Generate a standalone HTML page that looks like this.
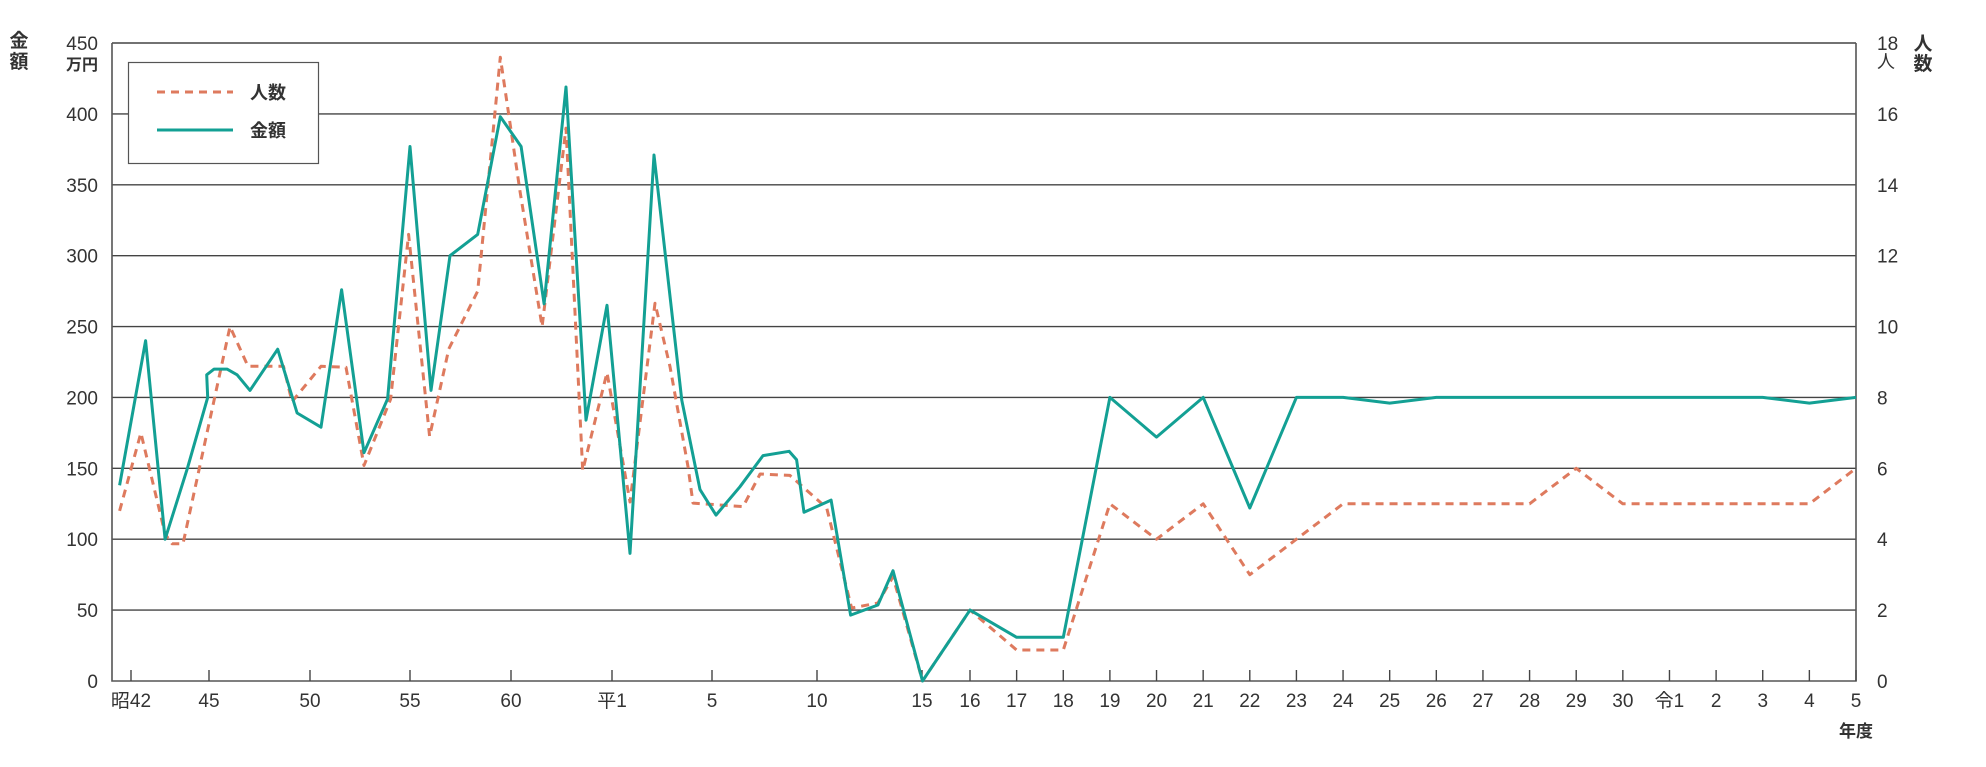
<!DOCTYPE html>
<html><head><meta charset="utf-8"><style>
html,body{margin:0;padding:0;background:#fff;}
svg{display:block;font-family:"Liberation Sans","Noto Sans CJK JP",sans-serif;}
</style></head><body>
<svg id="chart" width="1986" height="767" viewBox="0 0 1986 767" xmlns="http://www.w3.org/2000/svg">
<g id="grid"></g>
<g id="axes"></g>
<g id="series"></g>
<g font-size="19" font-weight="bold" fill="#333">
<text x="19" y="47" text-anchor="middle">金</text><text x="19" y="68" text-anchor="middle">額</text></g>
<text x="98" y="70" text-anchor="end" font-size="16" font-weight="bold" fill="#333">万円</text>
<text x="1877" y="68" font-size="18" fill="#333">人</text>
<g font-size="19" font-weight="bold" fill="#333">
<text x="1923" y="50" text-anchor="middle">人</text><text x="1923" y="70" text-anchor="middle">数</text></g>
<text x="1856" y="737" text-anchor="middle" font-size="17" font-weight="bold" fill="#333">年度</text>
<g>
<rect x="128.5" y="62.5" width="190" height="101" fill="#fff" stroke="#555" stroke-width="1.2"/>
<line x1="157" y1="92" x2="233" y2="92" stroke="#de7a5e" stroke-width="3" stroke-dasharray="8,6"/>
<text x="250" y="99" font-size="18" font-weight="bold" fill="#333">人数</text>
<line x1="157" y1="130" x2="233" y2="130" stroke="#13a094" stroke-width="3"/>
<text x="250" y="137" font-size="18" font-weight="bold" fill="#333">金額</text>
</g>
</svg>
<script>
// tick definitions (year index -> label)
const tickIdx = [0,3,8,13,18,22,26,31,36,37,38,39,40,41,42,43,44,45,46,47,48,49,50,51,52,53,54,55,56];
const tickLabels = ["昭42","45","50","55","60","平1","5","10","15","16","17","18","19","20","21","22","23","24","25","26","27","28","29","30","令1","2","3","4","5"];
const leftTicks = [0,50,100,150,200,250,300,350,400,450];
const rightTicks = [0,2,4,6,8,10,12,14,16,18];
// amount series (万円): x = year index
const amountX = [-0.44,0.56,1.31,2.17,2.95,2.91,3.25,3.89,4.39,5.03,6.40,7.36,8.55,9.58,10.7,11.88,13.0,14.04,14.98,16.35,17.47,18.40,19.31,20.18,20.97,21.8,22.72,23.68,24.79,25.52,26.19,27.33,28.43,29.67,30.03,30.38,31.67,32.6,33.9,34.62,36.01,37,38,39,40,41,42,43,44,45,46,47,48,49,50,51,52,53,54,55,56];
const amountV = [138,240,100,150,200,216,220,220,216,205,234,189,179,276,161,199,377,205,300,315,398,377,266,419,184,265,90,371,198,135,117,137,159,162,156,119,127.6,46.5,53.6,77.8,0,50,30.8,30.8,200,172,200,122,200,200,196,200,200,200,200,200,200,200,200,196,200];
// people series (人)
const peopleX = [-0.44,0.38,1.31,1.58,2.0,4.04,4.93,6.69,7.11,8.55,9.8,10.7,12.03,12.93,13.97,14.92,16.35,17.47,18.36,19.23,20.18,20.84,21.8,22.72,23.72,24.32,25.04,25.24,27.48,28.29,29.71,31.46,32.65,33.9,34.62,36.01,37,38,39,40,41,42,43,44,45,46,47,48,49,50,51,52,53,54,55,56];
const peopleV = [4.8,7,4.15,3.87,3.87,10,8.88,8.88,7.88,8.88,8.85,6.08,7.95,12.6,6.9,9.37,11,17.6,13.8,10,15.6,5.94,8.7,5.05,10.66,8.87,6.05,5.02,4.92,5.84,5.8,4.88,2.06,2.2,2.94,0,2,0.875,0.875,5,4,5,3,4,5,5,5,5,5,6,5,5,5,5,5,6];

const NS="http://www.w3.org/2000/svg";
const L=112,R=1856,T=43,B=681;
// piecewise x axis anchors (axis layout)
const anchorI=[0,3,8,13,18,22,26,31,36,37,56];
const anchorP=[131,209,310,410,511,612,712,817,922,970,1856];
function xs(i){
  let k=0;
  while(k<anchorI.length-2 && i>anchorI[k+1]) k++;
  const i0=anchorI[k],i1=anchorI[k+1],p0=anchorP[k],p1=anchorP[k+1];
  return p0+(i-i0)*(p1-p0)/(i1-i0);
}
function yL(v){return B-v/450*(B-T);}
function yR(v){return B-v/18*(B-T);}
function mk(tag,attrs,parent){const e=document.createElementNS(NS,tag);for(const k in attrs)e.setAttribute(k,attrs[k]);parent.appendChild(e);return e;}
const grid=document.getElementById('grid'),axes=document.getElementById('axes'),series=document.getElementById('series');
leftTicks.forEach((v,j)=>{
  const y=yL(v);
  if(v>0){const g=mk('line',{x1:L,x2:R,y1:y,y2:y,stroke:'#444','stroke-width':1.4},grid);
  
  }
  const t=mk('text',{x:98,y:y+7,'text-anchor':'end','font-size':19,fill:'#333'},axes);t.textContent=v;
  
  
  const t2=mk('text',{x:1877,y:yR(rightTicks[j])+7,'font-size':19,fill:'#333'},axes);t2.textContent=rightTicks[j];
  
  
});
const ax=mk('path',{d:`M${L},${T} V${B} H${R} V${T}`,fill:'none',stroke:'#555','stroke-width':1.6},axes);


tickIdx.forEach((i,j)=>{
  const x=xs(i);
  const tk=mk('line',{x1:x,x2:x,y1:B-11,y2:B,stroke:'#444','stroke-width':1.4},axes);
  
  
  const t=mk('text',{x:x,y:B+26,'text-anchor':'middle','font-size':19,fill:'#333'},axes);t.textContent=tickLabels[j];
  
  
});
const pd=peopleX.map((x,k)=>(k?'L':'M')+xs(x).toFixed(1)+','+yR(peopleV[k]).toFixed(1)).join(' ');
const pl=mk('path',{d:pd,fill:'none',stroke:'#de7a5e','stroke-width':3,'stroke-dasharray':'8,6','stroke-linejoin':'round'},series);


const ad=amountX.map((x,k)=>(k?'L':'M')+xs(x).toFixed(1)+','+yL(amountV[k]).toFixed(1)).join(' ');
const al=mk('path',{d:ad,fill:'none',stroke:'#13a094','stroke-width':3,'stroke-linejoin':'round'},series);


</script>
</body></html>
